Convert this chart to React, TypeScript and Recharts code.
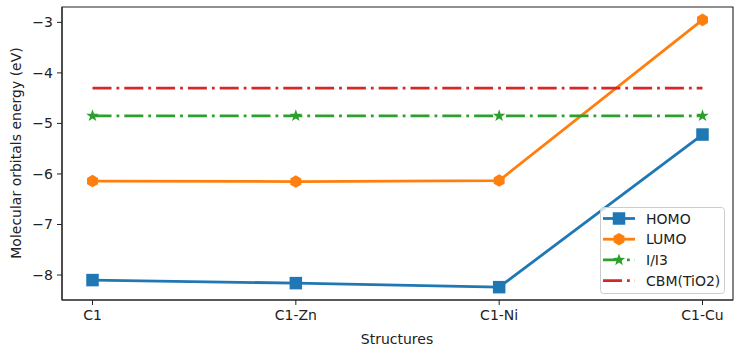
import React from "react";
import { LineChart, Line, XAxis, YAxis, Label, ReferenceArea } from "recharts";

const categories = ["C1", "C1-Zn", "C1-Ni", "C1-Cu"];
const homo = [-8.1, -8.16, -8.24, -5.22];
const lumo = [-6.14, -6.15, -6.13, -2.95];
const iI3 = [-4.85, -4.85, -4.85, -4.85];
const cbm = [-4.3, -4.3, -4.3, -4.3];
const yTicks = [-8, -7, -6, -5, -4, -3];
const xTicks = [0, 1, 2, 3];
const xDomain = [-0.15, 3.15];
const yDomain = [-8.494, -2.696];

const data = categories.map((name, i) => ({
  x: i,
  name,
  homo: homo[i],
  lumo: lumo[i],
  i3: iI3[i],
  cbm: cbm[i],
}));

const BLUE = "#1f77b4";
const ORANGE = "#ff7f0e";
const GREEN = "#2ca02c";
const RED = "#d62728";
const FONT = "DejaVu Sans";
const DASHDOT = "19 5 2.8 5";
const LW = 2.8;

const hexPoints = (cx: number, cy: number, r: number) =>
  Array.from({ length: 6 }, (_, k) => {
    const a = ((90 + 60 * k) * Math.PI) / 180;
    return `${cx + r * Math.cos(a)},${cy - r * Math.sin(a)}`;
  }).join(" ");

const starPoints = (cx: number, cy: number, ro: number, ri: number) =>
  Array.from({ length: 10 }, (_, k) => {
    const r = k % 2 === 0 ? ro : ri;
    const a = ((90 + 36 * k) * Math.PI) / 180;
    return `${cx + r * Math.cos(a)},${cy - r * Math.sin(a)}`;
  }).join(" ");

const SquareDot = (props: any) => {
  const { cx, cy, index } = props;
  if (cx == null || cy == null) return <g key={index} />;
  return <rect key={index} x={cx - 6.25} y={cy - 6.25} width={12.5} height={12.5} fill={BLUE} />;
};
const HexDot = (props: any) => {
  const { cx, cy, index } = props;
  if (cx == null || cy == null) return <g key={index} />;
  return <polygon key={index} points={hexPoints(cx, cy, 6.3)} fill={ORANGE} />;
};
const StarDot = (props: any) => {
  const { cx, cy, index } = props;
  if (cx == null || cy == null) return <g key={index} />;
  return <polygon key={index} points={starPoints(cx, cy, 6.5, 2.6)} fill={GREEN} />;
};

const legendItems = [
  { label: "HOMO", color: BLUE, dash: undefined, marker: "square" },
  { label: "LUMO", color: ORANGE, dash: undefined, marker: "hex" },
  { label: "I/I3", color: GREEN, dash: DASHDOT, marker: "star" },
  { label: "CBM(TiO2)", color: RED, dash: DASHDOT, marker: "none" },
];

const LegendBox = () => (
  <svg width={126} height={88} style={{ display: "block" }}>
    <rect x={0.5} y={0.5} width={124} height={86} rx={3} fill="#ffffff" fillOpacity={0.8} stroke="#cccccc" />
    {legendItems.map((it, i) => {
      const y = 11.5 + i * 20.7;
      return (
        <g key={it.label}>
          <line x1={3} x2={35} y1={y} y2={y} stroke={it.color} strokeWidth={LW} strokeDasharray={it.dash} />
          {it.marker === "square" && <rect x={12.75} y={y - 6.25} width={12.5} height={12.5} fill={it.color} />}
          {it.marker === "hex" && <polygon points={hexPoints(19, y, 6.3)} fill={it.color} />}
          {it.marker === "star" && <polygon points={starPoints(19, y, 6.5, 2.6)} fill={it.color} />}
          <text x={46} y={y} dominantBaseline="central" fontFamily={FONT} fontSize={14} fill="#222">
            {it.label}
          </text>
        </g>
      );
    })}
  </svg>
);

const tickStyle = { fontFamily: FONT, fontSize: 14, fill: "#222" };

const YLabel = () => (
  <text
    x={16}
    y={153}
    transform="rotate(-90, 16, 153)"
    textAnchor="middle"
    dominantBaseline="central"
    fontFamily={FONT}
    fontSize={14}
    fill="#222"
  >
    Molecular orbitals energy (eV)
  </text>
);

const XLabel = () => (
  <text x={397} y={339} textAnchor="middle" dominantBaseline="central" fontFamily={FONT} fontSize={14} fill="#222">
    Structures
  </text>
);

export default function App() {
  return (
    <div style={{ position: "absolute", left: 0, top: 0, width: 740, height: 351, background: "#fff" }}>
      <LineChart width={740} height={351} data={data} margin={{ top: 7, right: 7, bottom: 0, left: 0 }}>
        <ReferenceArea
          x1={xDomain[0]}
          x2={xDomain[1]}
          y1={yDomain[0]}
          y2={yDomain[1]}
          fill="none"
          fillOpacity={0}
          stroke="#222"
          strokeWidth={1.1}
          ifOverflow="visible"
        />
        <XAxis
          dataKey="x"
          type="number"
          domain={xDomain}
          ticks={xTicks}
          allowDataOverflow
          tickFormatter={(v: number) => categories[v] ?? ""}
          tick={tickStyle}
          tickSize={5}
          tickMargin={5}
          tickLine={{ stroke: "#222" }}
          axisLine={{ stroke: "#222", strokeWidth: 1.1 }}
          height={51}
        >
          <Label content={<XLabel />} />
        </XAxis>
        <YAxis
          type="number"
          domain={yDomain}
          ticks={yTicks}
          allowDataOverflow
          width={62}
          tickFormatter={(v: number) => (v < 0 ? "\u2212" + Math.abs(v) : String(v))}
          tick={tickStyle}
          tickSize={5}
          tickMargin={4}
          tickLine={{ stroke: "#222" }}
          axisLine={{ stroke: "#222", strokeWidth: 1.1 }}
        >
          <Label content={<YLabel />} />
        </YAxis>
        <Line dataKey="homo" name="HOMO" stroke={BLUE} strokeWidth={LW} dot={SquareDot} activeDot={false} isAnimationActive={false} />
        <Line dataKey="lumo" name="LUMO" stroke={ORANGE} strokeWidth={LW} dot={HexDot} activeDot={false} isAnimationActive={false} />
        <Line dataKey="i3" name="I/I3" stroke={GREEN} strokeWidth={LW} strokeDasharray={DASHDOT} dot={StarDot} activeDot={false} isAnimationActive={false} />
        <Line dataKey="cbm" name="CBM(TiO2)" stroke={RED} strokeWidth={LW} strokeDasharray={DASHDOT} dot={false} activeDot={false} isAnimationActive={false} />
      </LineChart>
      <div style={{ position: "absolute", left: 600, top: 207 }}>
        <LegendBox />
      </div>
    </div>
  );
}
